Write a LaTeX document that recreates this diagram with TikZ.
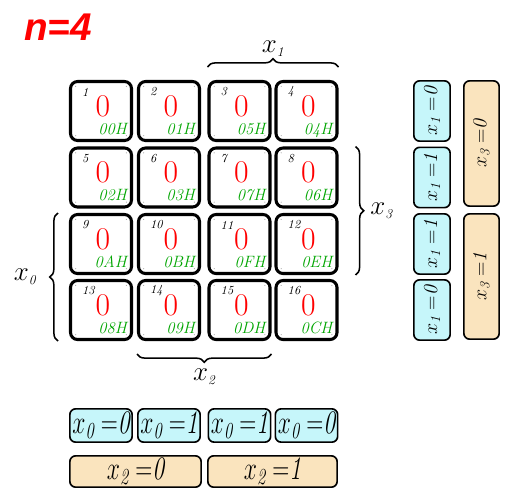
\documentclass[tikz,border=0pt]{standalone}
\usepackage{fix-cm}
\usepackage{xcolor}
\usepackage{amsmath}
\usepackage{graphicx}
\usepackage{fontspec}
\usepackage{tikz}
\usetikzlibrary{calc,decorations.pathreplacing}
\newfontfamily\titlefont{Liberation Sans}
\definecolor{mapcyan}{RGB}{198,246,250}
\definecolor{mapbeige}{RGB}{250,228,190}
\definecolor{hexgreen}{RGB}{0,165,0}
\tikzset{>=stealth}
\newcommand{\vlab}[2]{$x_{\mathit{#1}}\;{=}\mathit{#2}$}
\newcommand{\narrow}[1]{\scalebox{0.72}[1]{#1}}

\begin{document}
\begin{tikzpicture}[x=0.03cm, y=-0.03cm,
  kcell/.style={draw=black, line width=2.6pt, rounded corners=6pt, minimum width=1.83cm, minimum height=1.77cm, inner sep=0pt,
    path picture={\foreach \sx/\sy in {-1/-1,1/-1,-1/1,1/1}
      \fill[gray!70] ([xshift=\sx*0.76cm, yshift=\sy*0.74cm]path picture bounding box.center) circle (0.5pt);}},
  cellnum/.style={font=\fontsize{10.5}{10.5}\selectfont\itshape, inner sep=0pt, anchor=west},
  cellval/.style={font=\fontsize{27}{27}\selectfont, text=red, inner sep=0pt},
  cellhex/.style={font=\fontsize{14}{14}\selectfont\itshape, text=hexgreen, inner sep=0pt, anchor=base east},
  kbrace/.style={decorate, decoration={brace, amplitude=7pt}, line width=1.3pt},
  varlab/.style={font=\fontsize{23}{23}\selectfont, inner sep=0pt},
  colbox/.style={draw=black, line width=1.4pt, rounded corners=5pt, fill=mapcyan, inner sep=0pt, font=\fontsize{28}{28}\selectfont},
  halfbox/.style={colbox, fill=mapbeige},
  sidebox/.style={colbox, rotate=90, font=\fontsize{17}{17}\selectfont},
]
\useasboundingbox (0,0) rectangle (511,503);

% Title
\node[font=\titlefont\fontsize{33}{33}\selectfont\bfseries\itshape, text=red, anchor=base west, inner sep=0pt] (title) at (24,40) {n=4};

% Cells of the map
\foreach \n/\cx/\cy/\hx in {1/101/111/00H, 2/169/111/01H, 3/239.5/111/05H, 4/306.5/111/04H,
    5/101/177.5/02H, 6/169/177.5/03H, 7/239.5/177.5/07H, 8/306.5/177.5/06H,
    9/101/244/0AH, 10/169/244/0BH, 11/239.5/244/0FH, 12/306.5/244/0EH,
    13/101/310/08H, 14/169/310/09H, 15/239.5/310/0DH, 16/306.5/310/0CH}
{
  \node[kcell] (c\n) at (\cx,\cy) {};
  \node[cellval] (v\n) at ($(c\n.center)+(2,-5)$) {0};
  \node[cellnum] (n\n) at ($(c\n.north west)+(13,12)$) {\n};
  \node[cellhex] (h\n) at ($(c\n.south east)+(-6,-8)$) {\hx};
}

% Braces for the variables
\draw[kbrace] ($(c3.north west)+(0,-13)$) -- ($(c4.north east)+(0,-13)$)
  node[varlab, midway, above=8pt] (lx1) {$x_{\scriptscriptstyle\mathit{1}}$};
\draw[kbrace] ($(c8.north east)+(17,0)$) -- ($(c12.south east)+(17,0)$)
  node[varlab, midway, right=12pt] (lx3) {$x_{\scriptscriptstyle\mathit{3}}$};
\draw[kbrace] ($(c13.south west)+(-11,0)$) -- ($(c9.north west)+(-11,0)$)
  node[varlab, midway, left=18pt] (lx0) {$x_{\scriptscriptstyle\mathit{0}}$};
\draw[kbrace] ($(c15.south east)+(0,13)$) -- ($(c14.south west)+(0,13)$)
  node[varlab, midway, below=12pt] (lx2) {$x_{\scriptscriptstyle\mathit{2}}$};

% Boxes below the map
\node[colbox, minimum width=1.87cm, minimum height=1.0cm] (b1) at (101,425.5) {\narrow{\vlab{0}{0}}};
\node[colbox, minimum width=1.87cm, minimum height=1.0cm] (b2) at (169,425.5) {\narrow{\vlab{0}{1}}};
\node[colbox, minimum width=1.87cm, minimum height=1.0cm] (b3) at (239.5,425.5) {\narrow{\vlab{0}{1}}};
\node[colbox, minimum width=1.87cm, minimum height=1.0cm] (b4) at (306.5,425.5) {\narrow{\vlab{0}{0}}};
\node[halfbox, minimum width=3.94cm, minimum height=0.94cm] (b5) at (135.5,471.5) {\narrow{\vlab{2}{0}}};
\node[halfbox, minimum width=3.88cm, minimum height=0.94cm] (b6) at (272.5,471.5) {\narrow{\vlab{2}{1}}};

% Boxes right of the map
\node[sidebox, minimum width=1.81cm, minimum height=1.09cm] (r1) at (432,111) {\vlab{1}{0}};
\node[sidebox, minimum width=1.81cm, minimum height=1.09cm] (r2) at (432,177.5) {\vlab{1}{1}};
\node[sidebox, minimum width=1.81cm, minimum height=1.09cm] (r3) at (432,244) {\vlab{1}{1}};
\node[sidebox, minimum width=1.81cm, minimum height=1.09cm] (r4) at (432,310) {\vlab{1}{0}};
\node[sidebox, fill=mapbeige, minimum width=3.76cm, minimum height=1.06cm] (r5) at (481.5,143.5) {\vlab{3}{0}};
\node[sidebox, fill=mapbeige, minimum width=3.76cm, minimum height=1.06cm] (r6) at (481.5,276.5) {\vlab{3}{1}};

\end{tikzpicture}
\end{document}
